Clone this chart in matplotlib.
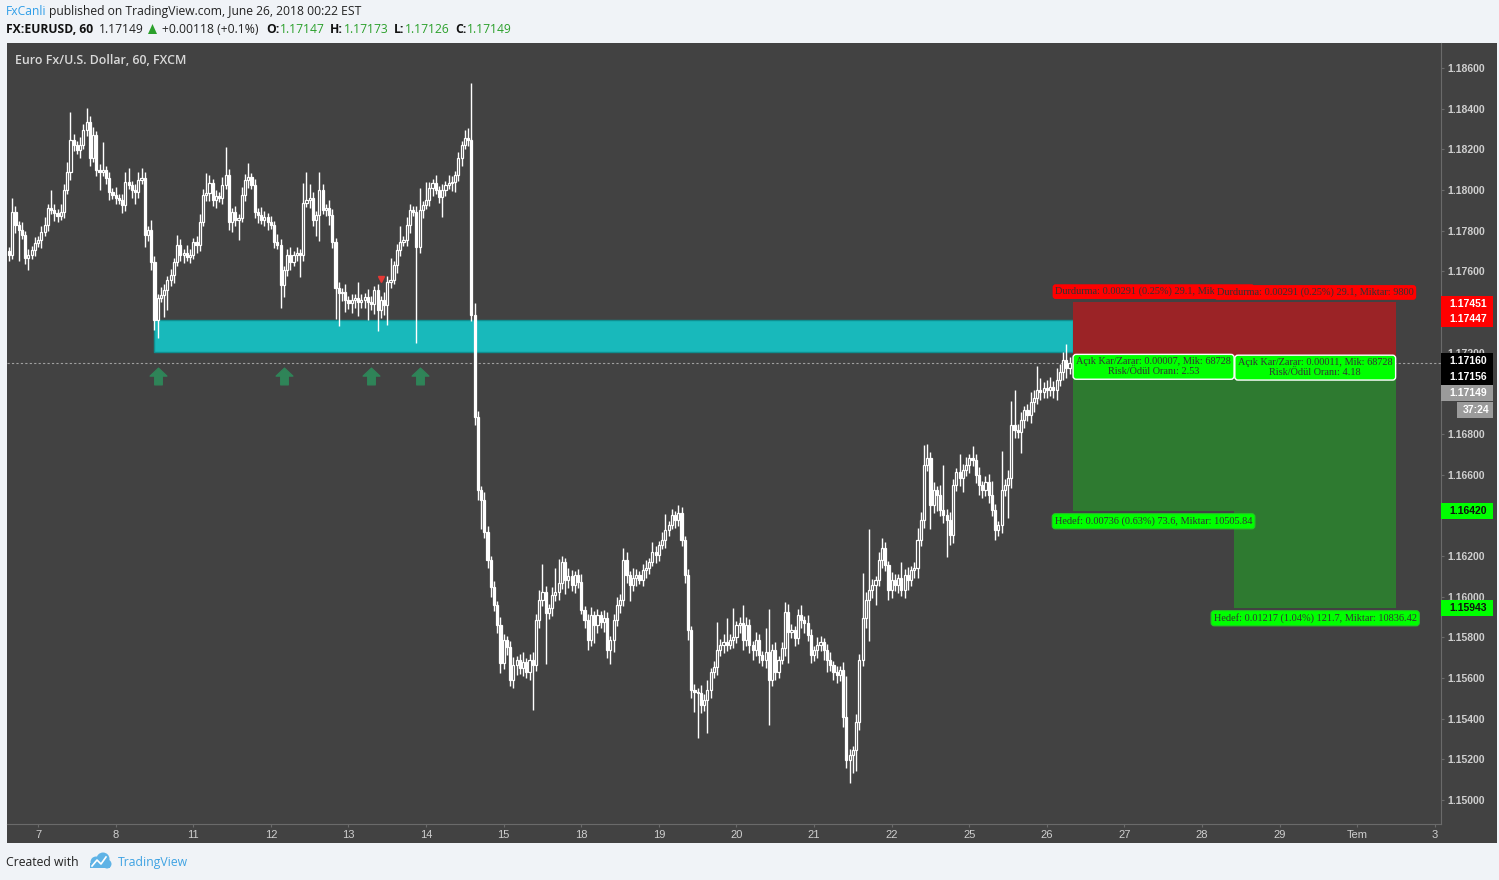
import numpy as np
import matplotlib.pyplot as plt
import matplotlib.patches as patches
import matplotlib.transforms as mtransforms
from matplotlib.path import Path

# hourly EURUSD closes, June 6 afternoon -> June 26 morning
closes = [
    1.17680, 1.17891, 1.17827, 1.17803, 1.17778, 1.17665, 1.17680, 1.17705, 1.17739, 1.17754,
    1.17793, 1.17827, 1.17911, 1.17901, 1.17886, 1.17871, 1.17891, 1.18000, 1.18088, 1.18246,
    1.18221, 1.18197, 1.18221, 1.18295, 1.18334, 1.18157, 1.18270, 1.18098, 1.18088, 1.18098,
    1.18059, 1.17990, 1.17975, 1.17960, 1.17950, 1.17926, 1.18039, 1.18024, 1.18000, 1.17990,
    1.18049, 1.18059, 1.17778, 1.17803, 1.17645, 1.17360, 1.17469, 1.17483, 1.17508, 1.17557,
    1.17581, 1.17645, 1.17729, 1.17680, 1.17690, 1.17670, 1.17680, 1.17744, 1.17729, 1.17842,
    1.17975, 1.17985, 1.18034, 1.17950, 1.17970, 1.17960, 1.18024, 1.18073, 1.17842, 1.17891,
    1.17852, 1.17862, 1.17975, 1.18049, 1.18064, 1.18024, 1.17891, 1.17877, 1.17852, 1.17867,
    1.17842, 1.17827, 1.17744, 1.17729, 1.17532, 1.17606, 1.17680, 1.17645, 1.17680, 1.17690,
    1.17680, 1.17936, 1.17950, 1.17960, 1.17852, 1.17877, 1.18000, 1.17901, 1.17911, 1.17877,
    1.17744, 1.17518, 1.17493, 1.17498, 1.17459, 1.17444, 1.17459, 1.17469, 1.17449, 1.17459,
    1.17474, 1.17449, 1.17439, 1.17508, 1.17409, 1.17459, 1.17434, 1.17547, 1.17557, 1.17631,
    1.17705, 1.17744, 1.17754, 1.17827, 1.17901, 1.17891, 1.17719, 1.17901, 1.17926, 1.17950,
    1.18009, 1.18034, 1.18000, 1.17965, 1.18000, 1.18024, 1.18034, 1.18039, 1.18073, 1.18157,
    1.18221, 1.18256, 1.18246, 1.17385, 1.16883, 1.16524, 1.16475, 1.16318, 1.16180, 1.16047,
    1.15959, 1.15860, 1.15673, 1.15787, 1.15753, 1.15590, 1.15664, 1.15688, 1.15649, 1.15678,
    1.15629, 1.15688, 1.15664, 1.15885, 1.15983, 1.16023, 1.15919, 1.15944, 1.16008, 1.16023,
    1.16067, 1.16170, 1.16082, 1.16101, 1.16057, 1.16106, 1.16072, 1.15934, 1.15885, 1.15787,
    1.15910, 1.15860, 1.15910, 1.15875, 1.15895, 1.15737, 1.15787, 1.15885, 1.15959, 1.15983,
    1.16180, 1.16106, 1.16057, 1.16092, 1.16106, 1.16082, 1.16131, 1.16141, 1.16170, 1.16219,
    1.16205, 1.16254, 1.16278, 1.16328, 1.16352, 1.16401, 1.16377, 1.16411, 1.16278, 1.16106,
    1.15836, 1.15541, 1.15531, 1.15526, 1.15467, 1.15491, 1.15541, 1.15629, 1.15654, 1.15737,
    1.15762, 1.15777, 1.15762, 1.15787, 1.15802, 1.15860, 1.15870, 1.15787, 1.15860, 1.15762,
    1.15737, 1.15787, 1.15713, 1.15688, 1.15727, 1.15590, 1.15737, 1.15629, 1.15688, 1.15747,
    1.15924, 1.15826, 1.15836, 1.15797, 1.15910, 1.15885, 1.15870, 1.15811, 1.15713, 1.15737,
    1.15762, 1.15777, 1.15737, 1.15688, 1.15664, 1.15629, 1.15614, 1.15639, 1.15408, 1.15196,
    1.15221, 1.15245, 1.15383, 1.15688, 1.15895, 1.15983, 1.16032, 1.16057, 1.16082, 1.16180,
    1.16239, 1.16155, 1.16032, 1.16082, 1.16057, 1.16092, 1.16032, 1.16106, 1.16082, 1.16131,
    1.16141, 1.16278, 1.16377, 1.16647, 1.16682, 1.16451, 1.16524, 1.16500, 1.16426, 1.16401,
    1.16377, 1.16303, 1.16549, 1.16613, 1.16583, 1.16623, 1.16647, 1.16682, 1.16672, 1.16598,
    1.16549, 1.16524, 1.16564, 1.16500, 1.16426, 1.16328, 1.16352, 1.16524, 1.16549, 1.16583,
    1.16844, 1.16819, 1.16809, 1.16868, 1.16918, 1.16893, 1.16957, 1.16977, 1.17016, 1.17006,
    1.17026, 1.17016, 1.17031, 1.17016, 1.17065, 1.17104, 1.17164, 1.17124, 1.17149,
]
first_open = 1.17700

# wick lengths in pips above / below the body
wick_hi = [
    2, 7, 3, 2, 4, 2, 3, 2, 3, 2,
    3, 4, 2, 9, 3, 2, 4, 3, 5, 14,
    3, 2, 4, 3, 7, 3, 4, 2, 3, 14,
    2, 3, 2, 4, 2, 3, 5, 7, 2, 3,
    4, 5, 3, 2, 5, 3, 2, 4, 3, 2,
    3, 2, 5, 3, 2, 4, 3, 2, 3, 4,
    3, 10, 4, 2, 3, 2, 4, 14, 3, 2,
    3, 2, 4, 3, 7, 2, 3, 2, 4, 3,
    2, 3, 2, 4, 3, 2, 3, 4, 2, 3,
    2, 10, 14, 7, 3, 2, 9, 3, 2, 4,
    3, 2, 3, 2, 4, 2, 3, 2, 8, 3,
    2, 4, 3, 2, 3, 2, 4, 3, 11, 2,
    3, 8, 2, 4, 3, 2, 3, 11, 2, 9,
    3, 2, 4, 2, 3, 2, 4, 3, 2, 3,
    2, 4, 5, 28, 6, 3, 2, 4, 3, 2,
    3, 2, 4, 3, 2, 3, 4, 2, 3, 5,
    2, 3, 4, 3, 5, 14, 3, 2, 4, 12,
    12, 3, 2, 4, 3, 2, 3, 4, 2, 3,
    4, 2, 3, 2, 4, 3, 2, 3, 4, 3,
    6, 4, 2, 5, 3, 2, 3, 4, 2, 5,
    3, 2, 4, 8, 2, 3, 2, 4, 3, 2,
    3, 2, 3, 2, 4, 3, 5, 2, 3, 14,
    3, 4, 12, 3, 14, 2, 3, 9, 4, 3,
    2, 4, 3, 2, 12, 21, 3, 4, 2, 3,
    5, 4, 3, 2, 3, 5, 2, 4, 3, 2,
    4, 3, 2, 3, 4, 2, 3, 2, 4, 20,
    3, 2, 4, 3, 22, 4, 30, 3, 2, 4,
    5, 3, 2, 4, 3, 2, 8, 3, 4, 2,
    3, 6, 4, 10, 7, 3, 4, 2, 5, 22,
    3, 4, 3, 2, 9, 3, 4, 2, 6, 3,
    4, 2, 3, 4, 7, 3, 2, 19, 3, 4,
    12, 17, 3, 4, 2, 3, 5, 4, 12, 6,
    3, 4, 5, 3, 6, 4, 4, 8, 3,
]
wick_lo = [
    3, 2, 4, 15, 2, 3, 6, 2, 3, 2,
    4, 2, 3, 2, 4, 3, 2, 3, 2, 4,
    3, 2, 4, 2, 3, 4, 2, 3, 9, 2,
    3, 4, 2, 3, 2, 4, 3, 2, 4, 6,
    3, 2, 6, 3, 4, 5, 9, 2, 11, 10,
    3, 4, 2, 3, 4, 2, 3, 2, 4, 3,
    2, 3, 4, 3, 4, 2, 3, 2, 4, 5,
    3, 10, 2, 3, 4, 2, 3, 4, 2, 3,
    4, 2, 3, 2, 11, 6, 3, 4, 2, 3,
    11, 3, 2, 4, 3, 8, 13, 2, 3, 5,
    3, 15, 16, 4, 6, 3, 5, 4, 7, 3,
    4, 9, 3, 5, 10, 4, 5, 10, 3, 2,
    4, 3, 2, 3, 4, 2, 47, 3, 4, 2,
    3, 4, 2, 3, 10, 3, 2, 4, 5, 3,
    4, 2, 3, 3, 4, 5, 14, 3, 4, 5,
    3, 4, 5, 3, 4, 3, 4, 5, 3, 4,
    3, 4, 22, 3, 4, 3, 25, 3, 4, 3,
    4, 3, 7, 4, 3, 4, 3, 2, 4, 5,
    3, 9, 4, 3, 5, 4, 7, 6, 3, 4,
    3, 4, 8, 3, 4, 2, 3, 4, 3, 2,
    4, 3, 2, 4, 3, 2, 4, 3, 3, 4,
    5, 4, 10, 22, 4, 3, 16, 4, 3, 4,
    3, 4, 3, 2, 4, 3, 4, 5, 3, 4,
    5, 3, 4, 3, 4, 22, 3, 4, 3, 2,
    4, 15, 3, 4, 3, 4, 5, 3, 4, 3,
    4, 3, 5, 6, 3, 4, 4, 3, 5, 4,
    11, 9, 10, 4, 3, 5, 20, 4, 10, 3,
    4, 3, 5, 4, 3, 4, 3, 4, 5, 3,
    4, 5, 3, 4, 3, 12, 4, 8, 3, 4,
    18, 5, 4, 3, 4, 7, 3, 4, 3, 4,
    5, 4, 3, 4, 3, 5, 3, 4, 3, 16,
    5, 4, 3, 10, 4, 3, 4, 5, 3, 4,
    3, 4, 3, 4, 5, 3, 4, 5, 3,
]
pip = 0.0001

# day boundaries (bar index) and their labels
day_ticks = [9, 33, 57, 81, 105, 129, 153, 177, 201, 225, 249, 273, 297, 321, 345, 369, 393, 417, 441]
day_labels = ['7', '8', '11', '12', '13', '14', '15', '18', '19', '20', '21', '22',
              '25', '26', '27', '28', '29', 'Tem', '3']
price_ticks = [1.150, 1.152, 1.154, 1.156, 1.158, 1.160, 1.162, 1.164, 1.166, 1.168,
               1.170, 1.172, 1.174, 1.176, 1.178, 1.180, 1.182, 1.184, 1.186]

# demand zone
zone_top, zone_bottom = 1.17360, 1.17203
zone_start, zone_end = 45, 329

# signals
buy_bars = [46, 85, 112, 127]
buy_level = 1.17085
sell_bar, sell_level = 115, 1.17562

# two short positions
pos_bars = [(329, 379), (379, 429)]
entries = [1.17160, 1.17156]
stops = [1.17451, 1.17447]
targets = [1.16420, 1.15943]
stop_texts = ['Durdurma: 0.00291 (0.25%) 29.1, Miktar: 9800',
              'Durdurma: 0.00291 (0.25%) 29.1, Miktar: 9800']
pnl_texts = ['Açık Kar/Zarar: 0.00007, Mik: 68728\nRisk/Ödül Oranı: 2.53',
             'Açık Kar/Zarar: 0.00011, Mik: 68728\nRisk/Ödül Oranı: 4.18']
target_texts = ['Hedef: 0.00736 (0.63%) 73.6, Miktar: 10505.84',
                'Hedef: 0.01217 (1.04%) 121.7, Miktar: 10836.42']
last_price = 1.17149

BG = '#424242'
W, H = 1499, 880

fig = plt.figure(figsize=(W / 100, H / 100), dpi=100, facecolor='#f0f3f7')
fig.add_artist(patches.Rectangle((7 / W, 1 - 843 / H), 1490 / W, 800 / H,
                                 transform=fig.transFigure, fc=BG, ec='none', zorder=0))
ax = fig.add_axes([7 / W, 1 - 824 / H, 1434 / W, 781 / H], facecolor=BG)
ax.set_xlim(-0.62, 442.9)
ax.set_ylim(1.14882, 1.18723)

# candles
closes = np.array(closes)
opens = np.concatenate([[first_open], closes[:-1]])
idx = np.arange(len(closes))
tops = np.maximum(opens, closes)
bots = np.minimum(opens, closes)
highs = tops + np.array(wick_hi) * pip
lows = bots - np.array(wick_lo) * pip
up = closes >= opens
ax.vlines(idx, tops, highs, color='white', lw=1, zorder=3)
ax.vlines(idx, lows, bots, color='white', lw=1, zorder=3)
hts = np.maximum(tops - bots, 0.00002)
ax.bar(idx[up], hts[up], bottom=bots[up], width=0.66, color=BG, edgecolor='white',
       linewidth=0.9, zorder=4)
ax.bar(idx[~up], hts[~up], bottom=bots[~up], width=0.66, color='white', edgecolor='white',
       linewidth=0.9, zorder=4)

# zone
ax.add_patch(patches.Rectangle((zone_start, zone_bottom), zone_end - zone_start, zone_top - zone_bottom,
                               fc='#18b9bb', ec='#0f8f90', lw=1, zorder=2))

# last price line
ax.axhline(last_price, color='#a0a0a0', lw=0.8, ls=(0, (2, 2)), zorder=1.5)

# signal arrows
arrow = Path([(0, 1), (-1, 0.05), (-0.45, 0.05), (-0.45, -1), (0.45, -1), (0.45, 0.05), (1, 0.05), (0, 1)],
             [Path.MOVETO] + [Path.LINETO] * 6 + [Path.CLOSEPOLY])
ax.plot(buy_bars, [buy_level] * len(buy_bars), ls='none', marker=arrow, ms=12,
        color='#2f8458', zorder=5)
ax.plot([sell_bar], [sell_level], ls='none', marker='v', ms=4.5, color='#e53935', zorder=5)

# positions
lab = dict(family='Liberation Serif', fontsize=7.4, color='#333333', ha='center', va='center', zorder=8)
up10 = mtransforms.offset_copy(ax.transData, fig=fig, y=10, units='dots')
dn6 = mtransforms.offset_copy(ax.transData, fig=fig, y=-6, units='dots')
dn10 = mtransforms.offset_copy(ax.transData, fig=fig, y=-10, units='dots')
for k in range(2):
    x0, x1 = pos_bars[k]
    ax.add_patch(patches.Rectangle((x0, entries[k]), x1 - x0, stops[k] - entries[k],
                                   fc='#9b2326', ec='none', zorder=6))
    ax.add_patch(patches.Rectangle((x0, targets[k]), x1 - x0, entries[k] - targets[k],
                                   fc='#2e7a30', ec='none', zorder=6))
    xm = (x0 + x1) / 2
    ax.text(xm, stops[k], stop_texts[k], transform=up10,
            bbox=dict(boxstyle='round,pad=0.25,rounding_size=0.3', fc='#ff0000', ec='none'), **lab)
    ax.text(xm, entries[k], pnl_texts[k], transform=dn6, linespacing=1.1,
            bbox=dict(boxstyle='round,pad=0.3,rounding_size=0.3', fc='#00ff00', ec='white', lw=1), **lab)
    ax.text(xm, targets[k], target_texts[k], transform=dn10,
            bbox=dict(boxstyle='round,pad=0.25,rounding_size=0.3', fc='#00ff00', ec='#22cc22', lw=0.8), **lab)

# axes styling
for s in ['top', 'left']:
    ax.spines[s].set_visible(False)
for s in ['right', 'bottom']:
    ax.spines[s].set_color('#6a6a6a')
    ax.spines[s].set_linewidth(0.8)
ax.yaxis.tick_right()
ax.set_yticks(price_ticks)
ax.set_yticklabels([f'{p:.5f}' for p in price_ticks])
ax.set_xticks(day_ticks)
ax.set_xticklabels(day_labels)
ax.tick_params(axis='y', length=2.2, width=0.8, color='#6a6a6a', pad=2.5, labelsize=7.5,
               labelcolor='#cfcfcf')
ax.tick_params(axis='x', length=2.2, width=0.8, color='#6a6a6a', pad=2, labelsize=8,
               labelcolor='#cfcfcf')
for t in ax.get_yticklabels():
    t.set_fontfamily('Liberation Sans')
    t.set_fontweight('bold')
for t in ax.get_xticklabels():
    t.set_fontfamily('Liberation Sans')

ax.text(8 / 1434, 1 - 17 / 781, 'Euro Fx/U.S. Dollar, 60, FXCM', transform=ax.transAxes,
        family='Open Sans', fontweight='semibold', fontsize=8.9, color='#d9d9d9', va='center')

# price tags on the right scale
ident = mtransforms.IdentityTransform()


def axis_tag(price, text, bg, fg, shift=0, left=1441, right=1493):
    y = ax.transData.transform((0, price))[1] - shift
    fig.add_artist(patches.Rectangle((left, y - 8), right - left, 16, transform=ident,
                                     fc=bg, ec='none', zorder=5))
    fig.text((left + right) / 2 + 1, y, text, transform=ident, ha='center', va='center',
             family='Liberation Sans', fontweight='bold', fontsize=7.5, color=fg, zorder=6)


axis_tag(stops[0], f'{stops[0]:.5f}', '#ff0000', 'white', shift=2)
axis_tag(stops[1], f'{stops[1]:.5f}', '#ff0000', 'white', shift=17)
axis_tag(entries[0], f'{entries[0]:.5f}', '#000000', 'white', shift=0)
axis_tag(entries[1], f'{entries[1]:.5f}', '#000000', 'white', shift=15)
axis_tag(last_price, f'{last_price:.5f}', '#9b9b9b', 'white', shift=30)
axis_tag(last_price, '37:24', '#9b9b9b', 'white', shift=47, left=1457)
axis_tag(targets[0], f'{targets[0]:.5f}', '#00ff00', '#111111', shift=0)
axis_tag(targets[1], f'{targets[1]:.5f}', '#00ff00', '#111111', shift=0)

# header
hdr = dict(family='Open Sans', fontsize=8.7, va='center', transform=ident)


def htext(x, y, s, **kw):
    opts = dict(hdr)
    opts.update(kw)
    fig.text(x, H - y, s, **opts)


htext(6, 11, 'FxCanli', color='#2f9ee8')
htext(49, 11, 'published on TradingView.com, June 26, 2018 00:22 EST', color='#222222')
green = '#2ba02b'
htext(6, 29, 'FX:EURUSD, 60', color='#111111', fontweight='bold')
htext(99, 29, '1.17149', color='#222222')
fig.add_artist(patches.Polygon([(148, H - 34), (157, H - 34), (152.5, H - 24)], closed=True,
                               transform=ident, fc=green, ec='none'))
htext(162, 29, '+0.00118 (+0.1%)', color='#222222')
htext(266, 29, 'O:', color='#111111', fontweight='bold')
htext(280, 29, '1.17147', color=green)
htext(330, 29, 'H:', color='#111111', fontweight='bold')
htext(344, 29, '1.17173', color=green)
htext(394, 29, 'L:', color='#111111', fontweight='bold')
htext(405, 29, '1.17126', color=green)
htext(455, 29, 'C:', color='#111111', fontweight='bold')
htext(467, 29, '1.17149', color=green)

# footer
htext(6, 862, 'Created with', color='#222222', fontsize=8.8)
for cx, cy, r in [(96, 862, 5.5), (103, 859, 6.5), (107, 864, 4.5)]:
    fig.add_artist(patches.Circle((cx, H - cy), r, transform=ident, fc='#5fb3e6', ec='none'))
fig.add_artist(patches.Rectangle((90, H - 868), 20, 5, transform=ident, fc='#5fb3e6', ec='none'))
fig.add_artist(plt.Line2D([92, 97, 101, 106], [H - 866, H - 860, H - 864, H - 857],
                          transform=ident, color='white', lw=1.2))
htext(118, 862, 'TradingView', color='#3fa3e3', fontsize=8.8)

fig.savefig('out.png', dpi=100, facecolor=fig.get_facecolor())
